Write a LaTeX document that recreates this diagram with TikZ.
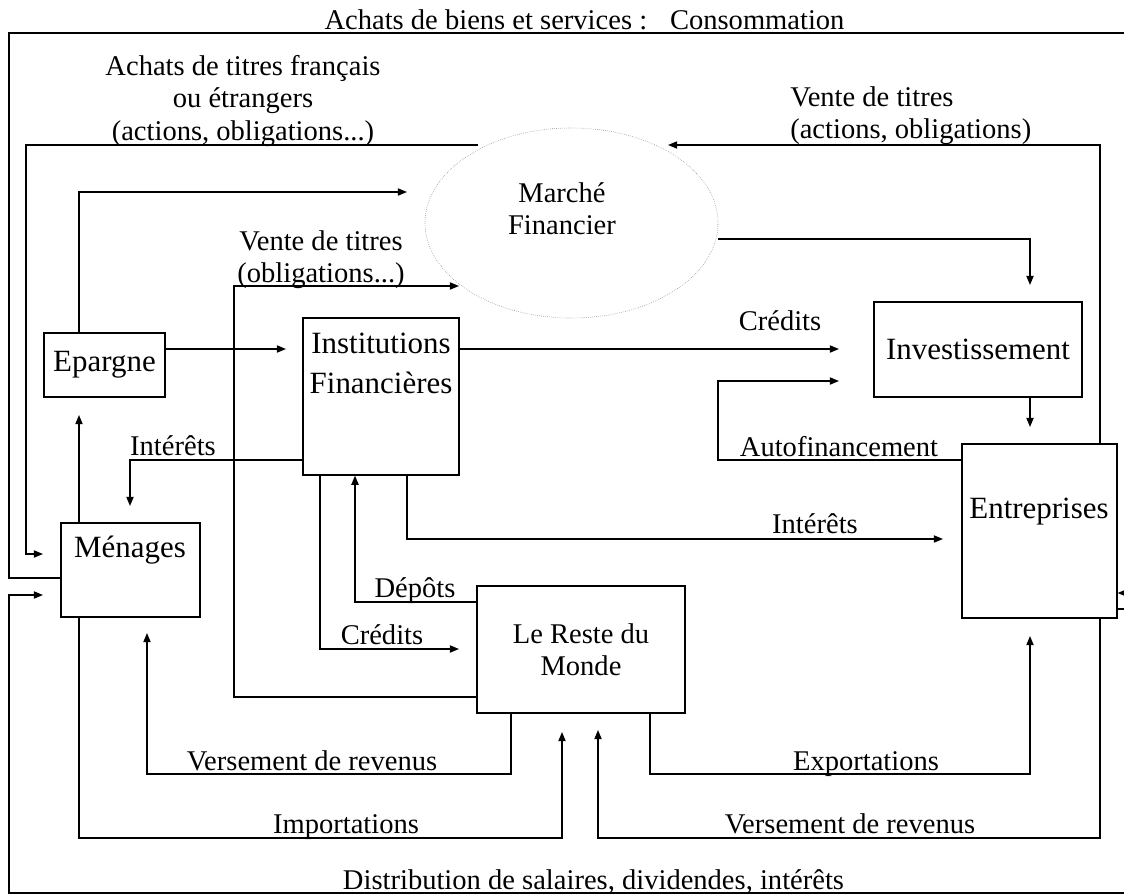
\documentclass[tikz,border=0pt]{standalone}
\usepackage{fontspec}
\setmainfont{Liberation Serif}
\usetikzlibrary{arrows.meta,shapes.geometric}

\tikzset{
	box/.style={draw, line width=0.8pt, inner sep=0pt, align=center, font=\fontsize{22}{28.4}\selectfont},
	boxtext/.style={inner sep=0pt, align=center, font=\fontsize{22}{28.4}\selectfont},
	lbl/.style={inner sep=0pt, align=center, font=\fontsize{20.3}{22.8}\selectfont},
	flow/.style={line width=1.05pt, -{Triangle[length=2.3mm,width=1.8mm]}},
}

\begin{document}
\begin{tikzpicture}[x=0.025cm, y=-0.025cm]
	\useasboundingbox (0,0) rectangle (1124,895);
	\clip (0,0) rectangle (1124,895);

	% Define the sectors
	\node[box, minimum width=3.025cm, minimum height=1.6cm] (epa) at (104.5,365) {Epargne};
	\node[box, minimum width=3.9cm, minimum height=3.925cm] (inst) at (381,396.5) {};
	\node[boxtext] (instT) at (381,363) {Institutions\\Financières};
	\node[box, minimum width=3.475cm, minimum height=2.35cm] (men) at (130.5,570) {};
	\node[boxtext, anchor=base] (menT) at (130,557) {Ménages};
	\node[box, minimum width=5.2cm, minimum height=2.375cm] (inv) at (978,349.5) {Investissement};
	\node[box, minimum width=3.875cm, minimum height=4.35cm] (ent) at (1039.5,531) {};
	\node[boxtext, anchor=base] (entT) at (1039,518) {Entreprises};
	\node[box, font=\fontsize{20.3}{22.8}\selectfont, minimum width=5.2cm, minimum height=3.175cm] (rdm) at (581,649.5) {Le Reste du\\Monde};
	\node[ellipse, draw=gray, densely dotted, inner sep=0pt, minimum width=7.325cm, minimum height=4.75cm] (mf) at (571.5,223) {};
	\node[lbl] (mfT) at (562,209) {Marché\\Financier};

	% Free arrow ends
	\coordinate (mfOut) at (478,145);
	\coordinate (mfInA) at (668,145);
	\coordinate (mfInB) at (407,192);
	\coordinate (mfInC) at (459,286);
	\coordinate (menInA) at (43,554);
	\coordinate (menInB) at (43,595);
	\coordinate (menInC) at (130,506);
	\coordinate (menInD) at (147,633);
	\coordinate (epaIn) at (79,415);
	\coordinate (instIn) at (286,349);
	\coordinate (invInA) at (839,349);
	\coordinate (invInB) at (839,381);
	\coordinate (invInC) at (1030,285);
	\coordinate (entInA) at (1030,427);
	\coordinate (entInB) at (943,539);
	\coordinate (entInC) at (1030,636);
	\coordinate (rdmInA) at (459,649);
	\coordinate (rdmInB) at (562,732);
	\coordinate (rdmInC) at (598,730);

	% Outer loops
	\draw[flow] (men.west |- 0,578) -- (9,578) -- (9,33) -- (1127,33) -- (1127,593) -- (ent.east |- 0,593);
	\draw[flow] (ent.east |- 0,609) -- (1127,609) -- (1127,893) -- (9,893) -- (9,595) -- (menInB);
	\node[lbl, anchor=base] (lConso) at (584.5,29) {Achats de biens et services :\hspace{0.8em}Consommation};
	\node[lbl, anchor=base] (lDistrib) at (593.5,889) {Distribution de salaires, dividendes, intérêts};

	% Financial market
	\draw[flow] (mfOut) -- (26,145) -- (26,554) -- (menInA);
	\node[lbl] (lTitresA) at (243,101) {Achats de titres français\\ou étrangers\\(actions, obligations...)};
	\draw[flow] (ent.north -| 1100,0) -- (1100,145) -- (mfInA);
	\node[lbl, align=left, anchor=west] (lTitresB) at (790,116) {Vente de titres\\(actions, obligations)};
	\draw[flow] (epa.north -| 79,0) -- (79,192) -- (mfInB);
	\draw[flow] (rdm.west |- 0,697) -- (234,697) -- (234,286) -- (mfInC);
	\node[lbl] (lTitresC) at (321,260) {Vente de titres\\(obligations...)};
	\draw[flow] (mf.east |- 0,239) -- (1030,239) -- (invInC);

	% Saving and investment
	\draw[flow] (men.north -| 79,0) -- (epaIn);
	\draw[flow] (epa.east |- 0,349) -- (instIn);
	\draw[flow] (inst.east |- 0,349) -- (invInA);
	\node[lbl, anchor=base] (lCredA) at (780,330) {Crédits};
	\draw[flow] (ent.west |- 0,460) -- (718,460) -- (718,381) -- (invInB);
	\node[lbl, anchor=base] (lAuto) at (839,456) {Autofinancement};
	\draw[flow] (inv.south -| 1030,0) -- (entInA);

	% Interests
	\draw[flow] (inst.south -| 407,0) -- (407,539) -- (entInB);
	\node[lbl, anchor=base] (lIntA) at (815,533) {Intérêts};
	\draw[flow] (inst.west |- 0,460) -- (130,460) -- (menInC);
	\node[lbl, anchor=base] (lIntB) at (173,455) {Intérêts};

	% Rest of the world
	\draw[flow] (inst.south -| 320,0) -- (320,649) -- (rdmInA);
	\node[lbl, anchor=base] (lCredB) at (382,644) {Crédits};
	\draw[flow] (rdm.west |- 0,602) -- (355,602) -- (inst.south -| 355,0);
	\node[lbl, anchor=base] (lDep) at (415,597) {Dépôts};
	\draw[flow] (rdm.south -| 511,0) -- (511,774) -- (147,774) -- (menInD);
	\node[lbl, anchor=base] (lVersA) at (312,770) {Versement de revenus};
	\draw[flow] (men.south -| 79,0) -- (79,838) -- (562,838) -- (rdmInB);
	\node[lbl, anchor=base] (lImp) at (346,833) {Importations};
	\draw[flow] (ent.south -| 1100,0) -- (1100,838) -- (598,838) -- (rdmInC);
	\node[lbl, anchor=base] (lVersB) at (850,833) {Versement de revenus};
	\draw[flow] (rdm.south -| 650,0) -- (650,774) -- (1030,774) -- (entInC);
	\node[lbl, anchor=base] (lExp) at (866,770) {Exportations};
\end{tikzpicture}
\end{document}
